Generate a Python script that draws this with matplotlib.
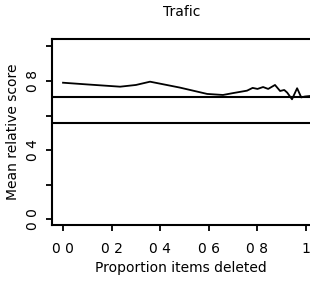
import numpy as np
import matplotlib
matplotlib.use("Agg")
import matplotlib.pyplot as plt

plt.rcParams['font.family'] = ['DejaVu Sans']

# curve
prop_deleted = [0.0, 0.1, 0.235, 0.30, 0.358, 0.48, 0.593, 0.658, 0.70, 0.757,
                0.78, 0.80, 0.823, 0.844, 0.872, 0.893, 0.91, 0.922, 0.942,
                0.963, 0.98, 0.995, 1.016]
mean_score = [0.790, 0.780, 0.767, 0.777, 0.796, 0.762, 0.725, 0.719, 0.730,
              0.744, 0.760, 0.754, 0.765, 0.754, 0.777, 0.742, 0.748, 0.733,
              0.694, 0.758, 0.705, 0.710, 0.713]
ref_levels = [0.705, 0.556]

x_ticks = [0.0, 0.2, 0.4, 0.6, 0.8, 1.0]
x_labels = ["0 0", "0 2", "0 4", "0 6", "0 8", "1"]
y_ticks = [0.0, 0.2, 0.4, 0.6, 0.8, 1.0]
y_labels = ["0 0", "", "0 4", "", "0 8", ""]

fig = plt.figure(figsize=(3.1, 2.81), dpi=100)
ax = fig.add_axes([0.168, 0.199, 0.832, 0.662])

ax.plot(prop_deleted, mean_score, color='black', lw=1.3)
for lv in ref_levels:
    ax.axhline(lv, color='black', lw=1.5)

ax.set_xlim(-0.045, 1.016)
ax.set_ylim(-0.035, 1.043)
ax.set_xticks(x_ticks)
ax.set_xticklabels(x_labels, fontsize=10)
ax.set_yticks(y_ticks)
ax.set_yticklabels(y_labels, fontsize=10, rotation=90, va='center')
ax.tick_params(direction='out', length=4, width=1.3, colors='black')
ax.tick_params(axis='x', pad=8)
ax.tick_params(axis='y', pad=5)
ax.spines['right'].set_visible(False)
for s in ['left', 'bottom', 'top']:
    ax.spines[s].set_linewidth(1.5)

ax.set_xlabel("Proportion items deleted", fontsize=10, labelpad=4)
ax.set_ylabel("Mean relative score", fontsize=10, labelpad=4)
fig.text(0.587, 0.957, "Trafic", ha='center', va='center', fontsize=10)

fig.savefig("out.png", dpi=100)
